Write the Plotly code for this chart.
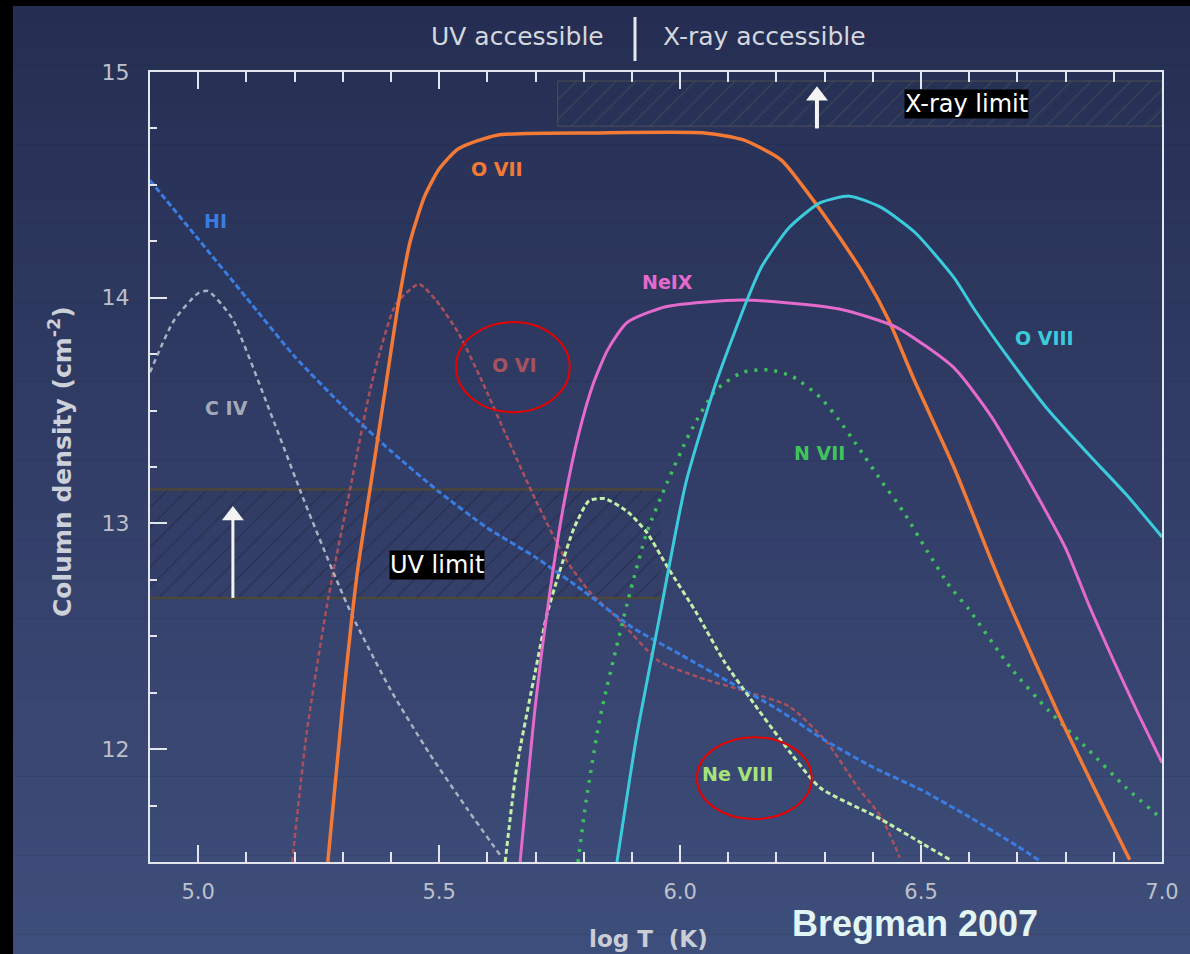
import plotly.graph_objects as go

# ---- column density curves: log T (K) vs log N (cm^-2) ----
HI_T = [4.90, 5.00, 5.10, 5.20, 5.30, 5.40, 5.50, 5.60, 5.70, 5.80, 5.90, 6.00,
        6.10, 6.20, 6.30, 6.40, 6.50, 6.60, 6.70, 6.75]
HI_N = [14.52, 14.26, 14.00, 13.74, 13.52, 13.32, 13.14, 12.98, 12.85, 12.70, 12.54, 12.42,
        12.30, 12.18, 12.04, 11.92, 11.82, 11.70, 11.57, 11.50]

CIV_T = [4.90, 4.95, 5.00, 5.02, 5.07, 5.15, 5.22, 5.285, 5.32, 5.40, 5.48, 5.56, 5.63]
CIV_N = [13.67, 13.90, 14.02, 14.03, 13.91, 13.49, 13.10, 12.76, 12.59, 12.26, 11.98, 11.73, 11.52]

OVI_T = [5.195, 5.225, 5.27, 5.315, 5.36, 5.41, 5.458, 5.493, 5.541, 5.589, 5.637, 5.701,
         5.763, 5.811, 5.875, 5.956, 6.051, 6.130, 6.226, 6.305, 6.369, 6.417, 6.456]
OVI_N = [11.50, 12.07, 12.67, 13.15, 13.62, 13.97, 14.06, 13.99, 13.84, 13.63, 13.40, 13.10,
         12.84, 12.70, 12.57, 12.39, 12.31, 12.26, 12.19, 12.03, 11.83, 11.70, 11.52]

OVII_T = [5.269, 5.30, 5.33, 5.36, 5.39, 5.415, 5.44, 5.47, 5.50, 5.54, 5.62, 5.83, 6.05,
          6.13, 6.21, 6.27, 6.33, 6.385, 6.433, 6.487, 6.568, 6.647, 6.686, 6.782, 6.861, 6.933]
OVII_N = [11.50, 12.20, 12.78, 13.20, 13.62, 13.97, 14.25, 14.45, 14.57, 14.66, 14.72, 14.73, 14.73,
          14.70, 14.61, 14.45, 14.27, 14.09, 13.90, 13.63, 13.25, 12.83, 12.63, 12.17, 11.82, 11.51]

NEIX_T = [5.668, 5.70, 5.73, 5.76, 5.79, 5.82, 5.85, 5.89, 5.97, 6.13, 6.33, 6.448,
          6.568, 6.647, 6.726, 6.80, 6.85, 6.90, 6.95, 7.00]
NEIX_N = [11.50, 12.20, 12.70, 13.10, 13.40, 13.62, 13.77, 13.89, 13.96, 13.99, 13.95, 13.87,
          13.69, 13.47, 13.18, 12.89, 12.63, 12.39, 12.16, 11.94]

OVIII_T = [5.869, 5.91, 5.956, 6.012, 6.074, 6.139, 6.17, 6.226, 6.29, 6.352, 6.417, 6.487,
           6.568, 6.61, 6.686, 6.765, 6.846, 6.925, 7.00]
OVIII_N = [11.50, 12.06, 12.57, 13.18, 13.62, 13.99, 14.14, 14.31, 14.42, 14.45, 14.40, 14.29,
           14.09, 13.95, 13.72, 13.50, 13.31, 13.13, 12.94]

NVII_T = [5.788, 5.805, 5.834, 5.892, 5.931, 5.973, 6.02, 6.074, 6.13, 6.186, 6.234, 6.29,
          6.329, 6.369, 6.417, 6.464, 6.512, 6.56, 6.599, 6.686, 6.765, 6.846, 6.925, 7.00]
NVII_N = [11.50, 11.77, 12.14, 12.66, 12.96, 13.18, 13.40, 13.59, 13.67, 13.68, 13.65, 13.56,
          13.46, 13.34, 13.19, 13.05, 12.88, 12.72, 12.62, 12.36, 12.17, 12.00, 11.83, 11.69]

NEVIII_T = [5.637, 5.661, 5.701, 5.724, 5.749, 5.780, 5.811, 5.844, 5.892, 5.931, 5.973, 6.035,
            6.091, 6.147, 6.209, 6.290, 6.408, 6.504, 6.560]
NEVIII_N = [11.50, 11.92, 12.36, 12.60, 12.78, 12.98, 13.10, 13.11, 13.05, 12.96, 12.81, 12.60,
            12.39, 12.22, 12.04, 11.83, 11.70, 11.58, 11.51]

# detection limits
UV_LIMIT = (12.67, 13.15)        # log N range
UV_TMAX = 5.96
XRAY_LIMIT = (14.76, 14.96)
XRAY_TMIN = 5.746

# upward arrows: (log T, tail log N, head log N)
UV_ARROW = (5.072, 12.67, 13.07)
XRAY_ARROW = (6.284, 14.75, 14.93)

X_RANGE = [4.9, 7.0]
Y_RANGE = [11.5, 15.0]
X_TICKS = [5.0, 5.5, 6.0, 6.5, 7.0]
X_TICKTEXT = ["5.0", "5.5", "6.0", "6.5", "7.0"]
Y_TICKS = [12, 13, 14, 15]

W, H = 1190, 954
ML, MR, MT, MB = 150, 28, 72, 92
PW, PH = W - ML - MR, H - MT - MB
FONT = "DejaVu Sans, Liberation Sans, Arial"


def px(xp):
    return (xp - ML) / PW


def py(yp):
    return (H - MB - yp) / PH


fig = go.Figure()

# shaded detection-limit bands
fig.add_trace(go.Scatter(
    x=[X_RANGE[0], UV_TMAX, UV_TMAX, X_RANGE[0], X_RANGE[0]],
    y=[UV_LIMIT[0], UV_LIMIT[0], UV_LIMIT[1], UV_LIMIT[1], UV_LIMIT[0]],
    mode="lines", line=dict(width=0), fill="toself",
    fillcolor="rgba(0,0,0,0)",
    fillpattern=dict(shape="/", fgcolor="rgba(24,28,44,0.7)", bgcolor="rgba(40,48,80,0.12)",
                     size=14, solidity=0.12),
    hoverinfo="skip", showlegend=False))
fig.add_trace(go.Scatter(
    x=[XRAY_TMIN, X_RANGE[1], X_RANGE[1], XRAY_TMIN, XRAY_TMIN],
    y=[XRAY_LIMIT[0], XRAY_LIMIT[0], XRAY_LIMIT[1], XRAY_LIMIT[1], XRAY_LIMIT[0]],
    mode="lines", line=dict(width=1, color="rgba(100,100,80,0.6)"), fill="toself",
    fillcolor="rgba(0,0,0,0)",
    fillpattern=dict(shape="/", fgcolor="rgba(100,112,85,0.55)", bgcolor="rgba(0,0,0,0)",
                     size=14, solidity=0.1),
    hoverinfo="skip", showlegend=False))
for yv in UV_LIMIT:
    fig.add_trace(go.Scatter(x=[X_RANGE[0], UV_TMAX], y=[yv, yv], mode="lines",
                             line=dict(color="rgba(78,72,52,0.9)", width=2.5),
                             hoverinfo="skip", showlegend=False))

# arrows: shaft line plus triangle head
for (t, n0, n1), w in ((UV_ARROW, 3), (XRAY_ARROW, 4)):
    fig.add_trace(go.Scatter(x=[t, t], y=[n0, n1 - 0.05], mode="lines",
                             line=dict(color="#f4f4f4", width=w),
                             hoverinfo="skip", showlegend=False))
    fig.add_trace(go.Scatter(x=[t], y=[n1 - 0.035], mode="markers",
                             marker=dict(symbol="triangle-up", size=19, color="#f4f4f4",
                                         line=dict(width=0)),
                             hoverinfo="skip", showlegend=False))

curves = [
    (OVI_T, OVI_N, "#a8505c", 2.5, "5px,3px"),
    (CIV_T, CIV_N, "#a9b1c2", 2.5, "5px,4px"),
    (HI_T, HI_N, "#3a7de2", 3.0, "6px,3px"),
    (NEVIII_T, NEVIII_N, "#c4efa8", 3.0, "5px,3px"),
    (NVII_T, NVII_N, "#3fbf5e", 3.5, "3px,7px"),
    (OVII_T, OVII_N, "#f27a36", 3.5, "solid"),
    (NEIX_T, NEIX_N, "#e46acb", 3.0, "solid"),
    (OVIII_T, OVIII_N, "#3ccbdb", 3.0, "solid"),
]
for t, n, col, w, dash in curves:
    fig.add_trace(go.Scatter(x=t, y=n, mode="lines",
                             line=dict(color=col, width=w, dash=dash, shape="spline", smoothing=0.6),
                             hoverinfo="skip", showlegend=False))

# background gradient and black frame
shapes = []
n_bands = 48
top, bot = 6, H
c_top, c_mid, c_bot = (37, 46, 82), (50, 62, 104), (62, 78, 122)
for i in range(n_bands):
    y0 = top + (bot - top) * i / n_bands
    y1 = top + (bot - top) * (i + 1) / n_bands
    f = (i + 0.5) / n_bands
    if f < 0.5:
        g = f / 0.5
        c = [round(c_top[k] + (c_mid[k] - c_top[k]) * g) for k in range(3)]
    else:
        g = (f - 0.5) / 0.5
        c = [round(c_mid[k] + (c_bot[k] - c_mid[k]) * g) for k in range(3)]
    shapes.append(dict(type="rect", xref="paper", yref="paper", layer="below",
                       x0=px(13), x1=px(W), y0=py(y1 + 0.5), y1=py(y0),
                       fillcolor=f"rgb({c[0]},{c[1]},{c[2]})", line=dict(width=0)))

# header divider
shapes.append(dict(type="line", xref="paper", yref="paper", x0=px(635), x1=px(635),
                   y0=py(61), y1=py(17), line=dict(color="#e6e8ee", width=3)))

# highlight ellipses
shapes.append(dict(type="circle", xref="x", yref="y", x0=5.535, x1=5.771, y0=13.493, y1=13.892,
                   line=dict(color="#e80000", width=2)))
shapes.append(dict(type="circle", xref="x", yref="y", x0=6.035, x1=6.273, y0=11.69, y1=12.053,
                   line=dict(color="#e80000", width=2)))

ann = []
labels = [
    ("O VII", 5.62, 14.57, "#f27a36"),
    ("HI", 5.035, 14.34, "#3a7de2"),
    ("NeIX", 5.973, 14.07, "#e46acb"),
    ("O VIII", 6.757, 13.82, "#3ccbdb"),
    ("O VI", 5.657, 13.70, "#a4525e"),
    ("C IV", 5.058, 13.51, "#a2a9b8"),
    ("N VII", 6.29, 13.31, "#40c45a"),
    ("Ne VIII", 6.12, 11.89, "#a8e27a"),
]
for txt, x, y, col in labels:
    ann.append(dict(x=x, y=y, xref="x", yref="y", text=f"<b>{txt}</b>", showarrow=False,
                    font=dict(family=FONT, size=19, color=col)))

ann.append(dict(x=5.495, y=12.815, xref="x", yref="y", text="UV limit", showarrow=False,
                bgcolor="#000000", font=dict(family=FONT, size=24, color="#ffffff"),
                borderpad=0))
ann.append(dict(x=6.595, y=14.86, xref="x", yref="y", text="X-ray limit", showarrow=False,
                bgcolor="#000000", font=dict(family=FONT, size=24, color="#ffffff"),
                borderpad=0))

# header and titles
ann.append(dict(x=px(606), y=py(37), xref="paper", yref="paper", xanchor="right", yanchor="middle",
                text="UV accessible", showarrow=False,
                font=dict(family=FONT, size=25, color="#d4d7de")))
ann.append(dict(x=px(661), y=py(37), xref="paper", yref="paper", xanchor="left", yanchor="middle",
                text="X-ray accessible", showarrow=False,
                font=dict(family=FONT, size=25, color="#d4d7de")))
ann.append(dict(x=px(648), y=py(939), xref="paper", yref="paper", xanchor="center", yanchor="middle",
                text="<b>log T\u00a0\u00a0(K)</b>", showarrow=False,
                font=dict(family=FONT, size=23, color="#c9cdd6")))
ann.append(dict(x=px(60), y=py(462), xref="paper", yref="paper", xanchor="center", yanchor="middle",
                text="<b>Column density (cm<sup>-2</sup>)</b>", textangle=-90, showarrow=False,
                font=dict(family=FONT, size=25, color="#ccd0d8")))
ann.append(dict(x=px(915), y=py(923), xref="paper", yref="paper", xanchor="center", yanchor="middle",
                text="<b>Bregman 2007</b>", showarrow=False,
                font=dict(family="Liberation Sans, Arial", size=36, color="#e2f4f3")))

axis_col = "#e4e6ee"
fig.update_layout(
    width=W, height=H,
    margin=dict(l=ML, r=MR, t=MT, b=MB, pad=0),
    paper_bgcolor="#000000",
    plot_bgcolor="rgba(0,0,0,0)",
    shapes=shapes,
    annotations=ann,
    xaxis=dict(range=X_RANGE, tickvals=X_TICKS, ticktext=X_TICKTEXT,
               showgrid=False, zeroline=False, showline=True, linecolor=axis_col, linewidth=2,
               mirror="ticks", ticks="inside", ticklen=17, tickwidth=2, tickcolor=axis_col,
               minor=dict(dtick=0.1, tick0=4.9, ticks="inside", ticklen=10, tickwidth=2,
                          tickcolor=axis_col, showgrid=False),
               tickfont=dict(family=FONT, size=21, color="#bcc0cc"),
               ticklabelstandoff=10),
    yaxis=dict(range=Y_RANGE, tickvals=Y_TICKS,
               showgrid=False, zeroline=False, showline=True, linecolor=axis_col, linewidth=2,
               mirror=True, ticks="inside", ticklen=17, tickwidth=2, tickcolor=axis_col,
               minor=dict(dtick=0.25, tick0=11.5, ticks="inside", ticklen=7, tickwidth=2,
                          tickcolor=axis_col, showgrid=False),
               tickfont=dict(family=FONT, size=22, color="#bcc0cc"),
               ticklabelstandoff=14),
)

fig.write_html("out.html")
